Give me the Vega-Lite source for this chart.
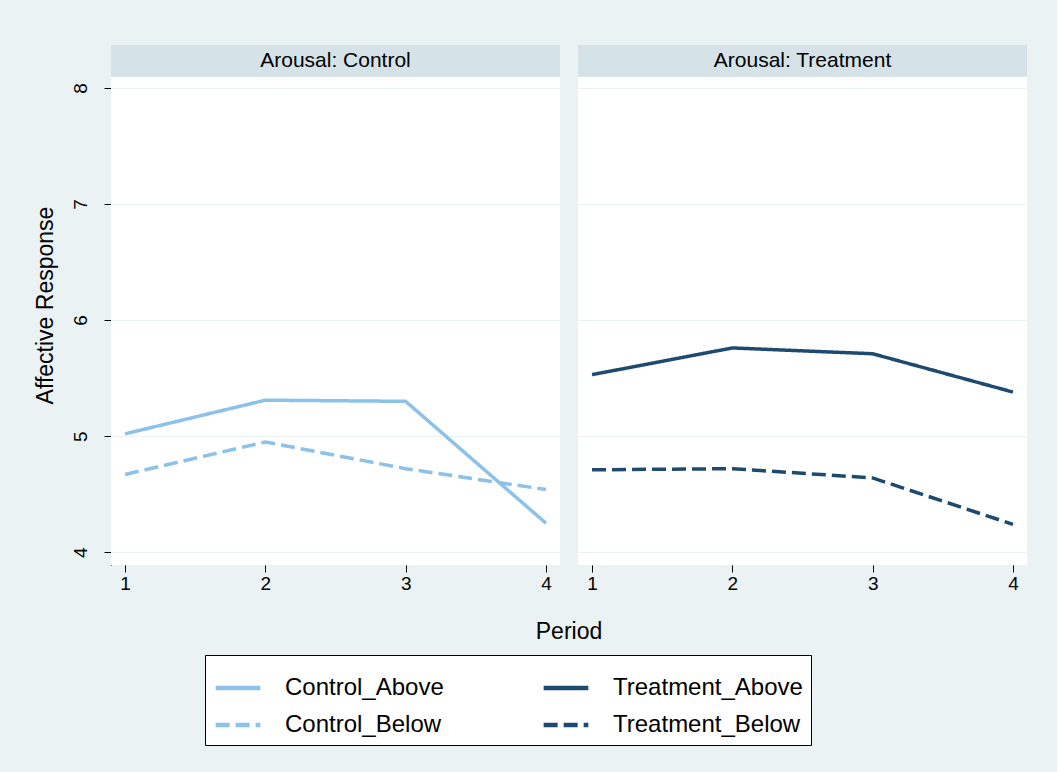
{
  "$schema": "https://vega.github.io/schema/vega-lite/v6.json",
  "background": "#eaf2f3",
  "padding": {"left": 34, "top": 45, "right": 30, "bottom": 30},
  "autosize": {"type": "pad"},
  "config": {
    "font": "Liberation Sans",
    "view": {"fill": "white", "stroke": null},
    "axis": {"labelFontSize": 19, "titleFontSize": 23, "titleFontWeight": "normal", "labelColor": "black", "titleColor": "black", "tickColor": "black", "domainColor": "black", "tickSize": 7, "gridColor": "#eaf2f3"}
  },
  "data": {
    "values": [
      {"arousal": "Arousal: Control", "series": "Control_Above", "period": 1, "value": 5.02},
      {"arousal": "Arousal: Control", "series": "Control_Above", "period": 2, "value": 5.31},
      {"arousal": "Arousal: Control", "series": "Control_Above", "period": 3, "value": 5.30},
      {"arousal": "Arousal: Control", "series": "Control_Above", "period": 4, "value": 4.25},
      {"arousal": "Arousal: Control", "series": "Control_Below", "period": 1, "value": 4.67},
      {"arousal": "Arousal: Control", "series": "Control_Below", "period": 2, "value": 4.95},
      {"arousal": "Arousal: Control", "series": "Control_Below", "period": 3, "value": 4.72},
      {"arousal": "Arousal: Control", "series": "Control_Below", "period": 4, "value": 4.54},
      {"arousal": "Arousal: Treatment", "series": "Treatment_Above", "period": 1, "value": 5.53},
      {"arousal": "Arousal: Treatment", "series": "Treatment_Above", "period": 2, "value": 5.76},
      {"arousal": "Arousal: Treatment", "series": "Treatment_Above", "period": 3, "value": 5.71},
      {"arousal": "Arousal: Treatment", "series": "Treatment_Above", "period": 4, "value": 5.38},
      {"arousal": "Arousal: Treatment", "series": "Treatment_Below", "period": 1, "value": 4.71},
      {"arousal": "Arousal: Treatment", "series": "Treatment_Below", "period": 2, "value": 4.72},
      {"arousal": "Arousal: Treatment", "series": "Treatment_Below", "period": 3, "value": 4.64},
      {"arousal": "Arousal: Treatment", "series": "Treatment_Below", "period": 4, "value": 4.24}
    ]
  },
  "facet": {"column": {"field": "arousal", "type": "nominal", "title": "Period", "header": {"titleOrient": "bottom", "labels": false, "titleFontSize": 23, "titleFontWeight": "normal", "titleColor": "black", "titlePadding": 18}}},
  "spacing": 18,
  "spec": {
    "width": 449,
    "height": 520,
    "encoding": {
      "x": {"field": "period", "type": "quantitative", "title": null, "scale": {"domain": [0.9, 4.1], "nice": false, "zero": false}, "axis": {"values": [1, 2, 3, 4], "grid": false, "domain": false}},
      "y": {"field": "value", "type": "quantitative", "title": "Affective Response", "scale": {"domain": [3.89, 8.37], "nice": false, "zero": false}, "axis": {"values": [4, 5, 6, 7, 8], "labelAngle": -90, "labelAlign": "center", "labelBaseline": "bottom", "labelPadding": 14, "titlePadding": 14}}
    },
    "layer": [
      {
        "mark": {"type": "rect", "fill": "#d5e3e8"},
        "encoding": {"y": {"datum": 8.1}, "y2": {"datum": 8.37}, "x": {"datum": 0.9}, "x2": {"datum": 4.1}}
      },
      {
        "transform": [{"filter": "datum.period == 1 && indexof(datum.series, 'Above') >= 0"}],
        "mark": {"type": "text", "fontSize": 21, "color": "black"},
        "encoding": {"text": {"field": "arousal"}, "x": {"datum": 2.5}, "y": {"datum": 8.235}}
      },
      {
        "mark": {"type": "line", "strokeWidth": 3.5},
        "encoding": {
          "color": {"field": "series", "type": "nominal", "scale": {"domain": ["Control_Above", "Treatment_Above", "Control_Below", "Treatment_Below"], "range": ["#8cc1e9", "#1f4a70", "#8cc1e9", "#1f4a70"]},
            "legend": {"title": null, "orient": "none", "legendX": 94, "legendY": 610, "direction": "horizontal", "columns": 2, "labelFontSize": 24, "symbolType": "stroke", "symbolStrokeWidth": 4.5, "symbolSize": 2000, "strokeColor": "black", "fillColor": "white", "padding": 8, "columnPadding": 90, "rowPadding": 0, "labelLimit": 400, "labelOffset": 22}},
          "strokeDash": {"field": "series", "type": "nominal", "scale": {"domain": ["Control_Above", "Treatment_Above", "Control_Below", "Treatment_Below"], "range": [[1, 0], [1, 0], [14, 6], [14, 6]]}}
        }
      }
    ]
  }
}
